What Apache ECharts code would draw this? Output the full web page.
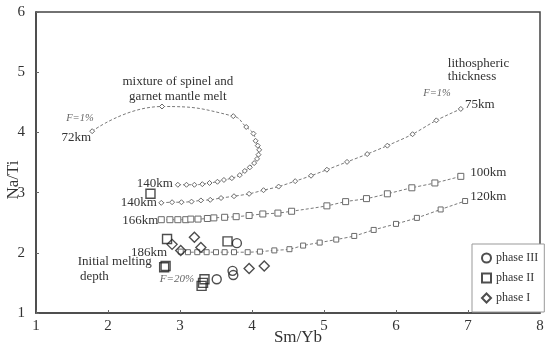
<!DOCTYPE html>
<html><head><meta charset="utf-8">
<script src="https://cdn.jsdelivr.net/npm/echarts@6/dist/echarts.min.js"></script>
<style>html,body{margin:0;padding:0;background:#fff}#c{width:550px;height:346px}</style>
</head><body><div id="c"></div>
<script>
// ---- data ----
const xRange = [1, 8];
const yRange = [1, 6];
// mixture of spinel and garnet mantle melt curve (72km -> 140km)
const mixX = [1.78, 2.75, 3.74, 3.92, 4.02, 4.05, 4.08, 4.10, 4.09, 4.07, 4.03, 3.97, 3.90, 3.83, 3.72, 3.61, 3.52, 3.41, 3.31, 3.20, 3.09, 2.97];
const mixY = [4.02, 4.43, 4.27, 4.09, 3.98, 3.86, 3.78, 3.71, 3.63, 3.56, 3.49, 3.42, 3.36, 3.29, 3.24, 3.21, 3.18, 3.16, 3.14, 3.13, 3.13, 3.13];
// 75km lithosphere curve (140km -> 75km)
const l75X = [2.74, 2.89, 3.02, 3.16, 3.29, 3.42, 3.57, 3.75, 3.96, 4.16, 4.37, 4.60, 4.82, 5.04, 5.32, 5.60, 5.88, 6.23, 6.56, 6.90];
const l75Y = [2.83, 2.84, 2.84, 2.85, 2.87, 2.88, 2.91, 2.94, 2.98, 3.04, 3.10, 3.19, 3.28, 3.38, 3.51, 3.64, 3.78, 3.97, 4.20, 4.39];
// 100km lithosphere curve (166km -> 100km)
const l100X = [2.74, 2.86, 2.97, 3.08, 3.15, 3.25, 3.38, 3.47, 3.62, 3.78, 3.96, 4.15, 4.36, 4.55, 5.04, 5.30, 5.59, 5.88, 6.22, 6.54, 6.90];
const l100Y = [2.55, 2.55, 2.55, 2.55, 2.56, 2.56, 2.57, 2.58, 2.59, 2.60, 2.62, 2.645, 2.66, 2.69, 2.78, 2.85, 2.90, 2.98, 3.08, 3.16, 3.27];
// 120km lithosphere curve (186km -> 120km)
const l120X = [3.01, 3.11, 3.24, 3.37, 3.50, 3.62, 3.75, 3.94, 4.11, 4.31, 4.52, 4.71, 4.94, 5.17, 5.42, 5.69, 6.00, 6.29, 6.62, 6.96];
const l120Y = [2.02, 2.01, 2.01, 2.01, 2.01, 2.01, 2.01, 2.01, 2.02, 2.04, 2.06, 2.12, 2.17, 2.22, 2.28, 2.38, 2.48, 2.58, 2.72, 2.86];
// samples
const p3X = [3.79, 3.51, 3.73, 3.74];
const p3Y = [2.16, 1.56, 1.70, 1.63];
const p2X = [2.59, 2.82, 3.66, 2.80, 2.78, 3.34, 3.32, 3.30];
const p2Y = [2.98, 2.23, 2.19, 1.78, 1.76, 1.56, 1.50, 1.45];
const p1X = [2.89, 3.20, 3.29, 3.01, 3.96, 4.17];
const p1Y = [2.14, 2.26, 2.09, 2.04, 1.74, 1.78];
const seriesNames = ['phase III', 'phase II', 'phase I'];
// annotations: text, data x, data y, align, style
const annText = ['mixture of spinel and', 'garnet mantle melt', 'F=1%', '72km', '140km', '140km', '166km', '186km', 'Initial melting', 'depth', 'F=20%', 'lithospheric', 'thickness', 'F=1%', '75km', '100km', '120km'];
const annX = [2.97, 2.97, 1.61, 1.56, 2.90, 2.68, 2.70, 2.82, 1.58, 1.61, 2.72, 6.72, 6.72, 6.38, 6.96, 7.03, 7.03];
const annY = [4.85, 4.60, 4.24, 3.92, 3.15, 2.83, 2.54, 2.01, 1.85, 1.60, 1.56, 5.15, 4.92, 4.65, 4.47, 3.34, 2.94];
const annAlign = ['center', 'center', 'center', 'center', 'right', 'right', 'right', 'right', 'left', 'left', 'left', 'left', 'left', 'left', 'left', 'left', 'left'];
const annItalic = [0, 0, 1, 0, 0, 0, 0, 0, 0, 0, 1, 0, 0, 1, 0, 0, 0];

const zip = (a, b) => a.map((v, i) => [v, b[i]]);
const SERIF = "'Liberation Serif', 'Times New Roman', serif";
const chart = echarts.init(document.getElementById('c'), null, {renderer: 'canvas'});

function curve(xs, ys, sym, size, smooth) {
  return {
    type: 'line', data: zip(xs, ys), smooth: smooth, symbol: sym, symbolSize: size,
    showSymbol: true, silent: true, z: 2,
    lineStyle: {color: '#7a7a7a', width: 1, type: [3, 2]},
    itemStyle: {color: '#fff', borderColor: '#6a6a6a', borderWidth: 1},
    emphasis: {disabled: true}
  };
}
function pts(name, xs, ys, sym, size) {
  return {
    type: 'scatter', name: name, data: zip(xs, ys), symbol: sym, symbolSize: size, z: 4,
    itemStyle: {color: 'rgba(0,0,0,0)', borderColor: '#222', borderWidth: 1.4}
  };
}

const option = {
  animation: false,
  backgroundColor: '#fff',
  grid: {left: 36, right: 10, top: 12, bottom: 33, show: true, borderColor: '#444', borderWidth: 1.5, backgroundColor: 'transparent'},
  xAxis: {
    type: 'value', min: xRange[0], max: xRange[1], interval: 1,
    axisLine: {show: true, lineStyle: {color: '#444', width: 1.5}},
    axisTick: {show: true, inside: true, length: 3, lineStyle: {color: '#666'}},
    axisLabel: {fontFamily: SERIF, fontSize: 15, color: '#333', margin: 6},
    splitLine: {show: false}
  },
  yAxis: {
    type: 'value', min: yRange[0], max: yRange[1], interval: 1,
    axisLine: {show: true, lineStyle: {color: '#444', width: 1.5}},
    axisTick: {show: true, inside: true, length: 3, lineStyle: {color: '#666'}},
    axisLabel: {fontFamily: SERIF, fontSize: 15, color: '#333', margin: 11},
    splitLine: {show: false}
  },
  legend: {
    orient: 'vertical', left: 472, top: 244,
    data: seriesNames, itemWidth: 9, itemHeight: 9, itemGap: 8,
    padding: [8, 6, 8, 9], borderColor: '#999', borderWidth: 1, backgroundColor: '#fff',
    textStyle: {fontFamily: SERIF, fontSize: 12, color: '#333'}
  },
  series: [
    curve(mixX, mixY, 'diamond', 5, 0.5),
    curve(l75X, l75Y, 'diamond', 5, 0.3),
    curve(l100X, l100Y, 'rect', 6, 0.3),
    curve(l120X, l120Y, 'rect', 5, 0.3),
    pts(seriesNames[0], p3X, p3Y, 'circle', 9),
    pts(seriesNames[1], p2X, p2Y, 'rect', 9),
    pts(seriesNames[2], p1X, p1Y, 'diamond', 10)
  ]
};
chart.setOption(option);

const graphics = annText.map((t, i) => {
  const p = chart.convertToPixel({gridIndex: 0}, [annX[i], annY[i]]);
  return {
    type: 'text', x: p[0], y: p[1], z: 10, silent: true,
    style: {
      text: t, fill: annItalic[i] ? '#666' : '#333',
      font: (annItalic[i] ? 'italic ' : '') + (annItalic[i] ? (t === 'F=20%' ? '11px ' : '10.5px ') : '13px ') + SERIF,
      align: annAlign[i], verticalAlign: 'middle', textAlign: annAlign[i], textVerticalAlign: 'middle'
    }
  };
});
graphics.push({
  type: 'text', x: 14, y: 180, rotation: Math.PI / 2, silent: true,
  style: {text: 'Na/Ti', fill: '#333', font: '17px ' + SERIF, align: 'center', verticalAlign: 'middle', textAlign: 'center', textVerticalAlign: 'middle'}
});
graphics.push({
  type: 'text', x: 298, y: 338, silent: true,
  style: {text: 'Sm/Yb', fill: '#333', font: '17px ' + SERIF, align: 'center', verticalAlign: 'middle', textAlign: 'center', textVerticalAlign: 'middle'}
});
chart.setOption({graphic: graphics});
</script></body></html>
